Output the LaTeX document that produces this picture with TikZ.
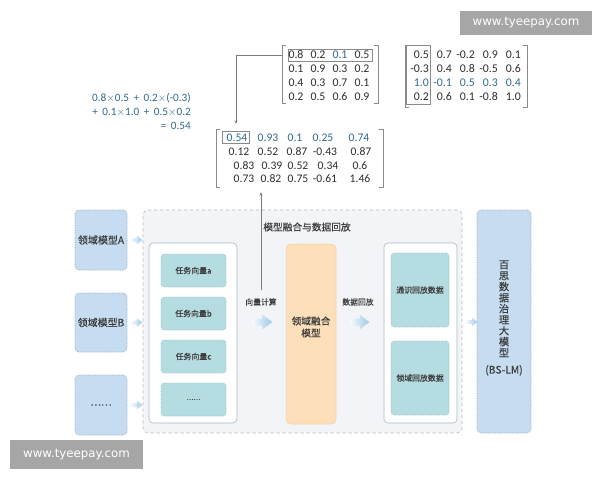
\documentclass[tikz,border=0pt]{standalone}
\usepackage{fontspec}
\setmainfont{Carlito}
\newfontfamily\cjk[FakeBold=0.4]{Noto Sans CJK SC}
\newfontfamily\wmfont{DejaVu Sans}
\usetikzlibrary{arrows.meta,calc}
\definecolor{numblue}{HTML}{2E6A8E}
\definecolor{numgray}{HTML}{2E2E2E}
\definecolor{txtgray}{HTML}{3C3C3C}
\definecolor{brkgray}{HTML}{8A8A8A}
\definecolor{lightblue}{HTML}{C6DDF1}
\definecolor{lbborder}{HTML}{94A9BC}
\definecolor{tealfill}{HTML}{B5DCE1}
\definecolor{tealborder}{HTML}{9CC3C8}
\definecolor{orangefill}{HTML}{FDE0B9}
\definecolor{orangeborder}{HTML}{F3CF9F}
\definecolor{contfill}{HTML}{F2F4F7}
\definecolor{contborder}{HTML}{B5B9BE}
\definecolor{panelborder}{HTML}{A9BAC6}
\definecolor{arrowblue}{HTML}{9CCAE6}
\definecolor{wmgray}{HTML}{A6A6A6}
\newcommand{\fatarrowat}[4]{%
  \begin{scope}[shift={#1}]
    \shade[left color=arrowblue!10, right color=arrowblue]
      (0,-#4) -- ({0.5*#2},-#4) -- ({0.5*#2},-#3) -- (#2,0) --
      ({0.5*#2},#3) -- ({0.5*#2},#4) -- (0,#4) -- cycle;
  \end{scope}}
\newcommand{\opgap}{\hspace{4.5pt}}
\begin{document}
\begin{tikzpicture}[x=1pt,y=-1pt,
  numtxt/.style={font=\fontsize{11.8}{13}\selectfont, text=numgray, inner sep=0pt},
  bnumtxt/.style={numtxt, text=numblue},
  numtxtc/.style={font=\fontsize{11.6}{13}\selectfont, text=numgray, inner sep=0pt},
  bnumtxtc/.style={numtxtc, text=numblue},
  eqtxt/.style={text=numblue, anchor=east, inner sep=0pt, font=\fontsize{11.2}{12}\selectfont},
  brkline/.style={draw=brkgray, line width=0.6pt},
  hlbox/.style={draw=brkgray, line width=0.6pt, inner sep=0pt},
  spanbox/.style={inner sep=0pt},
  connline/.style={draw=brkgray!90!black, line width=0.6pt, -{Stealth[length=3.5pt,width=3pt]}},
  dombox/.style={fill=lightblue, draw=lbborder, densely dotted, line width=0.7pt, rounded corners=4pt, inner sep=0pt, text=txtgray, font=\cjk\fontsize{10}{11}\selectfont},
  taskbox/.style={fill=tealfill, draw=tealborder, densely dotted, line width=0.6pt, rounded corners=3pt, inner sep=0pt, text=txtgray, font=\cjk\fontsize{7.9}{9}\selectfont, minimum width=65pt, minimum height=33pt},
  panelbox/.style={fill=white, draw=panelborder, line width=0.6pt, rounded corners=4pt, inner sep=0pt},
  lbltxt/.style={text=txtgray, font=\cjk\fontsize{7.8}{9}\selectfont, inner sep=0pt},
  wmbox/.style={fill=wmgray, text=white, inner sep=0pt, font=\wmfont\fontsize{11.8}{13}\selectfont}
]
\useasboundingbox (0,0) rectangle (600,480);
\fill[white] (0,0) rectangle (600,480);

% watermarks
\node[wmbox, minimum width=132pt, minimum height=24pt] (wm1) at (526,23) {www.tyeepay.com};
\node[wmbox, minimum width=133pt, minimum height=29pt] (wm2) at (76.5,454.5) {www.tyeepay.com};

% ---------- matrix 1 ----------
\node[spanbox, minimum width=96pt, minimum height=58pt] (m1) at (330,74) {};
\draw[brkline] ([xshift=4pt]m1.north west) -- (m1.north west) -- (m1.south west) -- ([xshift=4pt]m1.south west);
\draw[brkline] ([xshift=-4pt]m1.north east) -- (m1.north east) -- (m1.south east) -- ([xshift=-4pt]m1.south east);
\node[hlbox, minimum width=84pt, minimum height=11.5pt] (m1h) at (330,55.5) {};
\foreach \v [count=\i] in {0.8,0.2,0.1,0.5} {
  \ifnum\i=3 \node[bnumtxt] (ma-1-\i) at ({296+22*(\i-1)},55) {\v};
  \else \node[numtxt] (ma-1-\i) at ({296+22*(\i-1)},55) {\v}; \fi }
\foreach \row [count=\j from 2] in {{0.1,0.9,0.3,0.2},{0.4,0.3,0.7,0.1},{0.2,0.5,0.6,0.9}} {
  \foreach \v [count=\i] in \row {
    \node[numtxt] (ma-\j-\i) at ({296+22*(\i-1)},{55+14*(\j-1)}) {\v}; } }

% ---------- matrix 2 ----------
\node[spanbox, minimum width=122pt, minimum height=62pt] (m2) at (466,76) {};
\draw[brkline] ([xshift=4pt]m2.north west) -- (m2.north west) -- (m2.south west) -- ([xshift=4pt]m2.south west);
\draw[brkline] ([xshift=-4pt]m2.north east) -- (m2.north east) -- (m2.south east) -- ([xshift=-4pt]m2.south east);
\node[hlbox, minimum width=24pt, minimum height=59pt] (m2h) at (418,75) {};
\foreach \row [count=\j] in {{0.5,0.7,-0.2,0.9,0.1},{-0.3,0.4,0.8,-0.5,0.6},{1.0,-0.1,0.5,0.3,0.4},{0.2,0.6,0.1,-0.8,1.0}} {
  \foreach \v [count=\i] in \row {
    \ifnum\j=3 \node[bnumtxt, anchor=east] (mb-\j-\i) at ({429+23*(\i-1)},{55+14*(\j-1)}) {\v};
    \else \node[numtxt, anchor=east] (mb-\j-\i) at ({429+23*(\i-1)},{55+14*(\j-1)}) {\v}; \fi } }

% ---------- equation ----------
\node[eqtxt] (eq1) at (191,98) {0.8$\times$0.5\opgap+\opgap0.2$\times$(-0.3)};
\node[eqtxt] (eq2) at (191,112) {+\opgap0.1$\times$1.0\opgap+\opgap0.5$\times$0.2};
\node[eqtxt] (eq3) at (191,126) {=\opgap0.54};

% ---------- matrix 3 ----------
\node[spanbox, minimum width=167pt, minimum height=58pt] (m3) at (299.5,158) {};
\draw[brkline] ([xshift=4pt]m3.north west) -- (m3.north west) -- (m3.south west) -- ([xshift=4pt]m3.south west);
\draw[brkline] ([xshift=-4pt]m3.north east) -- (m3.north east) -- (m3.south east) -- ([xshift=-4pt]m3.south east);
\node[hlbox, minimum width=27pt, minimum height=12pt] (m3h) at (236,137.5) {};
\foreach \v/\x [count=\i] in {0.54/237,0.93/268,0.1/295,0.25/323,0.74/359} {
  \node[bnumtxtc] (mc-1-\i) at (\x,138) {\v}; }
\foreach \v/\x [count=\i] in {0.12/239,0.52/268,0.87/297,-0.43/325,0.87/361} {
  \node[numtxtc] (mc-2-\i) at (\x,152) {\v}; }
\foreach \v/\x [count=\i] in {0.83/244,0.39/272,0.52/298,0.34/328,0.6/360} {
  \node[numtxtc] (mc-3-\i) at (\x,165.5) {\v}; }
\foreach \v/\x [count=\i] in {0.73/244,0.82/271,0.75/298,-0.61/325,1.46/360} {
  \node[numtxtc] (mc-4-\i) at (\x,179) {\v}; }

% ---------- main container ----------
\node[fill=contfill, draw=contborder, dashed, line width=0.6pt, rounded corners=5pt,
  minimum width=319pt, minimum height=223pt, inner sep=0pt] (cont) at (302.5,321.5) {};
\node[text=txtgray, font=\cjk\fontsize{9.7}{11}\selectfont, inner sep=0pt] (title) at (307,227) {模型融合与数据回放};

% left domain boxes
\node[dombox, minimum width=52pt, minimum height=60pt] (dA) at (101,240) {领域模型A};
\node[dombox, minimum width=52pt, minimum height=59pt] (dB) at (101,322.5) {领域模型B};
\node[dombox, minimum width=52pt, minimum height=60pt] (dC) at (101,405) {……};

% left panel with task vectors
\node[panelbox, minimum width=88pt, minimum height=180pt] (lp) at (193,333) {};
\node[taskbox] (ta) at (193.5,270.5) {任务向量a};
\node[taskbox] (tb) at (193.5,313.5) {任务向量b};
\node[taskbox] (tc) at (193.5,356.5) {任务向量c};
\node[taskbox, font=\cjk\fontsize{6.5}{8}\selectfont] (td) at (193.5,399.5) {……};

% orange fusion model
\node[fill=orangefill, draw=orangeborder, line width=0.5pt, rounded corners=5pt,
  minimum width=50pt, minimum height=180pt, inner sep=0pt] (fm) at (311,334) {};
\node[text=txtgray, font=\cjk\fontsize{9.7}{12}\selectfont, align=center, inner sep=0pt] (fmt) at (311,327) {领域融合\\模型};

% right panel with replay data
\node[panelbox, minimum width=73pt, minimum height=180pt] (rp) at (420.5,333) {};
\node[taskbox, minimum width=58pt, minimum height=74pt] (r1) at (420,290) {通识回放数据};
\node[taskbox, minimum width=58pt, minimum height=74pt] (r2) at (420,378) {领域回放数据};

% labels
\node[lbltxt] (l1) at (261,302) {向量计算};
\node[lbltxt] (l2) at (358,302) {数据回放};

% BS-LM box
\node[dombox, minimum width=54pt, minimum height=223pt] (bs) at (504,321.5) {};
\node[text=txtgray, align=center, inner sep=0pt, font=\cjk\fontsize{10.3}{11}\selectfont] (bst) at (504,318)
  {百\\思\\数\\据\\治\\理\\大\\模\\型\\[6pt](BS-LM)};

% fat arrows
\fatarrowat{($(dA.east)+(4,0)$)}{11}{4.5}{2}
\fatarrowat{($(dB.east)+(4,0)$)}{11}{4.5}{2}
\fatarrowat{($(dC.east)+(4,0)$)}{11}{4.5}{2}
\fatarrowat{($(lp.east |- fm.center)+(15,-12)$)}{20}{7.5}{3.5}
\fatarrowat{($(fm.east)+(14,-12)$)}{19}{7.5}{3.5}
\fatarrowat{($(cont.east |- fm.center)+(4,-12)$)}{11}{4.5}{2}

% connectors
\coordinate (bend) at (236,55.5);
\draw[connline, -] (m1.west |- m1h.center) -- (bend);
\draw[connline, shorten >=5pt] (bend) -- (bend |- m3.north);
\coordinate (vstart) at (261,290);
\draw[connline, shorten >=5pt] (vstart) -- (vstart |- m3.south);
\end{tikzpicture}
\end{document}
